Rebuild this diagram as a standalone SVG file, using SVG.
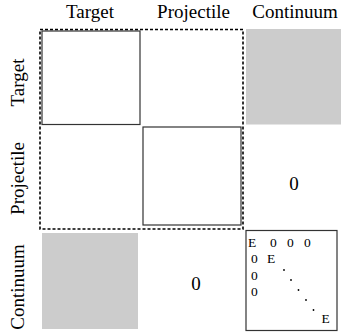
<svg xmlns="http://www.w3.org/2000/svg" width="341" height="334" viewBox="0 0 341 334">
<style>
.lbl{font-family:'Liberation Serif','DejaVu Serif',serif;font-size:19px;fill:#000}
.sm{font-family:'Liberation Serif','DejaVu Serif',serif;font-size:13.5px;fill:#000}
.blk{fill:#fff;stroke:#333;stroke-width:1.2}
.gray{fill:#cccccc;stroke:none}
.dash{fill:none;stroke:#000;stroke-width:1.6;stroke-dasharray:3,2}
</style>
<rect width="341" height="334" fill="#fff"/>
<g id="col-labels">
<text class="lbl" x="90" y="18" text-anchor="middle">Target</text>
<text class="lbl" x="193.5" y="18" text-anchor="middle">Projectile</text>
<text class="lbl" x="295" y="18" text-anchor="middle">Continuum</text>
</g>
<g id="row-labels">
<text class="lbl" transform="translate(24,82.5) rotate(-90)" text-anchor="middle">Target</text>
<text class="lbl" transform="translate(24,178.5) rotate(-90)" text-anchor="middle">Projectile</text>
<text class="lbl" transform="translate(24,287) rotate(-90)" text-anchor="middle">Continuum</text>
</g>
<g id="target-block"><rect class="blk" x="42" y="31" width="98" height="93.5"/></g>
<g id="projectile-block"><rect class="blk" x="143" y="127" width="98" height="98"/></g>
<g id="tc-gray"><rect class="gray" x="246" y="29" width="95" height="95.5"/></g>
<g id="ct-gray"><rect class="gray" x="42" y="233" width="96" height="96"/></g>
<g id="pc-zero"><text class="lbl" x="294" y="190" text-anchor="middle">0</text></g>
<g id="cp-zero"><text class="lbl" x="196" y="290" text-anchor="middle">0</text></g>
<g id="cc-block">
<rect class="blk" x="246" y="230.5" width="91" height="100"/>
<text class="sm" x="248" y="247">E</text>
<text class="sm" x="270" y="247">0</text>
<text class="sm" x="287" y="247">0</text>
<text class="sm" x="304" y="247">0</text>
<text class="sm" x="251" y="263">0</text>
<text class="sm" x="267" y="263">E</text>
<text class="sm" x="251" y="280">0</text>
<text class="sm" x="251" y="296">0</text>
<g fill="#000">
<circle cx="284" cy="270" r="0.9"/>
<circle cx="291" cy="280" r="0.9"/>
<circle cx="298.5" cy="290" r="0.9"/>
<circle cx="306" cy="300" r="0.9"/>
<circle cx="313.5" cy="310" r="0.9"/>
</g>
<text class="sm" x="321.5" y="323">E</text>
</g>
<g id="connectors">
<rect class="dash" x="40" y="29.5" width="203" height="199.5"/>
</g>
</svg>
